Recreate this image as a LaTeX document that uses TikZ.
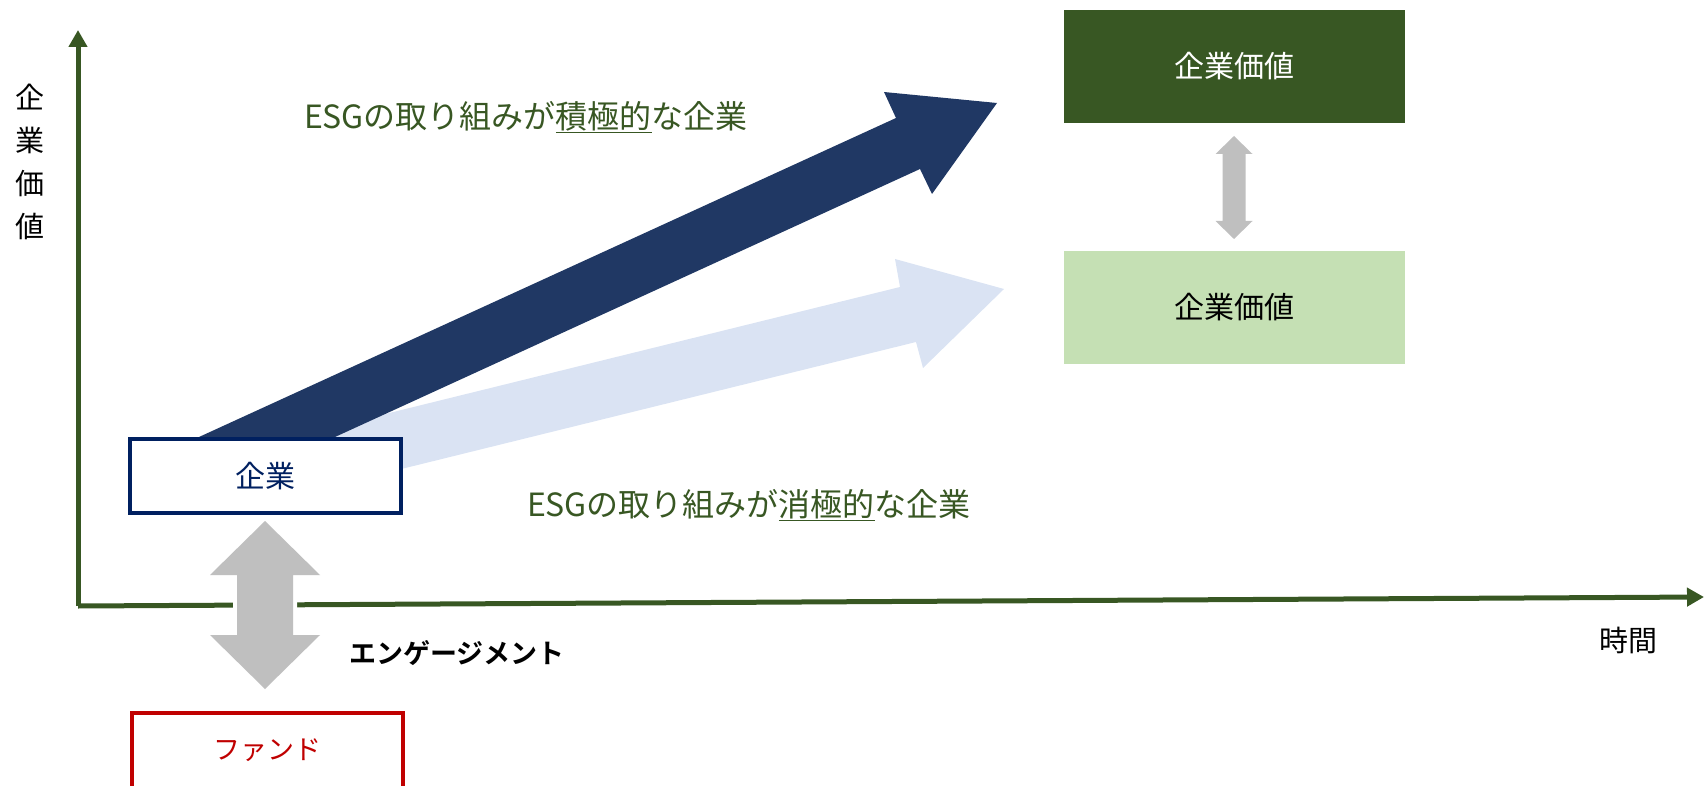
\documentclass[tikz,border=0pt]{standalone}
\usepackage{fontspec}
\setmainfont{Noto Sans CJK JP}[BoldFont={Noto Sans CJK JP Bold}]
\usetikzlibrary{arrows.meta}
\definecolor{navy}{HTML}{002060}
\definecolor{darkarrow}{HTML}{203864}
\definecolor{lightarrow}{HTML}{DAE3F3}
\definecolor{grayarrow}{HTML}{BFBFBF}
\definecolor{dgreen}{HTML}{385723}
\definecolor{lgreen}{HTML}{C5E0B4}
\definecolor{dred}{HTML}{C00000}
\tikzset{
  axisline/.style={draw=dgreen, line width=5pt, -{Triangle[width=18pt,length=17pt]}},
  firmbox/.style={draw=navy, line width=4pt, fill=white, minimum width=271pt, minimum height=74pt, inner sep=0pt, text=navy, font=\fontsize{30}{36}\selectfont},
  fundbox/.style={draw=dred, line width=4pt, fill=white, minimum width=271pt, minimum height=76pt, inner sep=0pt, text=dred, font=\fontsize{27}{32}\selectfont},
  valbox/.style={minimum width=341pt, minimum height=113pt, inner sep=0pt, font=\fontsize{30}{36}\selectfont},
  esglabel/.style={text=dgreen, inner sep=0pt, font=\fontsize{32}{38}\selectfont},
  blacklabel/.style={text=black, inner sep=0pt, font=\fontsize{29}{43}\selectfont},
  grayblock/.style={fill=grayarrow, preaction={draw=white, line width=8pt}},
}
\begin{document}
\begin{tikzpicture}[x=1pt, y=-1pt]
\useasboundingbox (0,0) rectangle (1704,786);

% block arrows
\fill[lightarrow] (300,435) -- (900,287) -- (895,259) -- (1004,289) -- (923,368) -- (916,342) -- (300,494) -- cycle;
\fill[darkarrow] (199,437) -- (896,118) -- (884,92) -- (997,103) -- (932,194) -- (920,169) -- (335,437) -- (300,470) -- cycle;

% axes
\coordinate (o) at (78,606);
\coordinate (ytop) at (78,30);
\coordinate (xend) at (1704,597);
\draw[axisline] (o) -- (ytop);
\draw[axisline] (o) -- (xend);

% boxes
\node[firmbox] (firm) at (265.5,476) {企業};
\node[fundbox] (fund) at (267.5,751) {\raisebox{3pt}{ファンド}};
\node[valbox, fill=dgreen, text=white] (vhigh) at (1234.5,66.5) {企業価値};
\node[valbox, fill=lgreen, text=black] (vlow) at (1234.5,307.5) {企業価値};

% engagement double arrow
\path[grayblock] (265,521) -- (320,575) -- (293,575) -- (293,635) -- (320,635) -- (265,689) -- (210,635) -- (237,635) -- (237,575) -- (210,575) -- cycle;
% small double arrow between values
\fill[grayarrow] (1234,136) -- (1252.5,154) -- (1245.5,154) -- (1245.5,221) -- (1252.5,221) -- (1234,239) -- (1215.5,221) -- (1222.5,221) -- (1222.5,154) -- (1215.5,154) -- cycle;

% labels
\node[esglabel] (pos) at (526,117) {ESGの取り組みが\underline{積極的}な企業};
\node[esglabel] (neg) at (749,505) {ESGの取り組みが\underline{消極的}な企業};
\node[blacklabel, align=center] (ylab) at (30,162) {企\\業\\価\\値};
\node[blacklabel] (xlab) at (1628,640) {時間};
\node[inner sep=0pt, font=\fontsize{27}{32}\selectfont\bfseries] (eng) at (457,653) {エンゲージメント};
\end{tikzpicture}
\end{document}
